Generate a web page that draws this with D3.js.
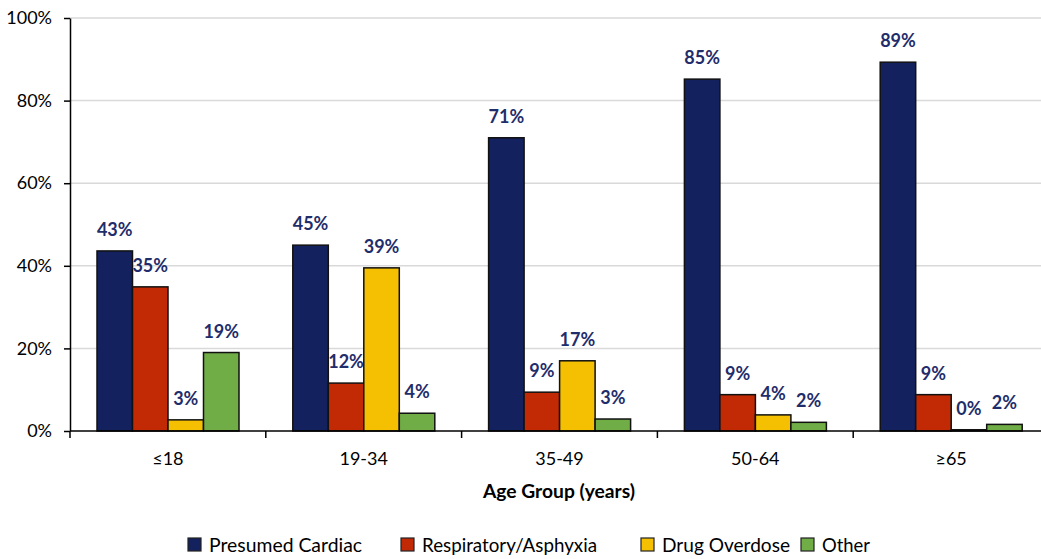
<!DOCTYPE html>
<html>
<head>
<meta charset="utf-8">
<script src="https://cdn.jsdelivr.net/npm/d3@7"></script>
<style>
  body { margin: 0; background: #fff; }
  svg { display: block; font-family: Lato, "Open Sans", sans-serif; }
</style>
</head>
<body>
<div id="chart"></div>
<script>
let W = 1041, H = 559;

let categories = ["\u226418", "19-34", "35-49", "50-64", "\u226565"];
let seriesNames = ["Presumed Cardiac", "Respiratory/Asphyxia", "Drug Overdose", "Other"];
let seriesColors = ["#13215E", "#C12A05", "#F5C002", "#70AD47"];
// bar heights, label text as printed
let cardiac     = [43.6, 45.0, 71.0, 85.2, 89.3];
let respiratory = [34.9, 11.6, 9.4, 8.8, 8.8];
let overdose    = [2.7, 39.5, 17.0, 3.9, 0.3];
let other       = [19.0, 4.3, 2.9, 2.1, 1.6];
let cardiacLbl     = ["43%", "45%", "71%", "85%", "89%"];
let respiratoryLbl = ["35%", "12%", "9%", "9%", "9%"];
let overdoseLbl    = ["3%", "39%", "17%", "4%", "0%"];
let otherLbl       = ["19%", "4%", "3%", "2%", "2%"];
let yTicks = [0, 20, 40, 60, 80, 100];

let series = [cardiac, respiratory, overdose, other];
let seriesLbl = [cardiacLbl, respiratoryLbl, overdoseLbl, otherLbl];

let PLOT_LEFT = 70, PLOT_TOP = 18, PLOT_BOTTOM = 431;
let GROUP_W = 195.8;

let svg = d3.select("#chart").append("svg").attr("width", W).attr("height", H);

let x0 = d3.scaleBand().domain(categories).range([PLOT_LEFT, PLOT_LEFT + GROUP_W * 5]).padding(0);
let x1 = d3.scaleBand().domain(d3.range(4)).range([27, 27 + 35.5 * 4]).padding(0);
let y = d3.scaleLinear().domain([0, 100]).range([PLOT_BOTTOM, PLOT_TOP]);

//gridlines
svg.append("g").selectAll("line").data(yTicks.filter(d => d > 0)).enter().append("line")
   .attr("x1", PLOT_LEFT).attr("x2", W).attr("y1", d => y(d)).attr("y2", d => y(d))
   .attr("stroke", "#D9D9D9").attr("stroke-width", 1.5);

//y axis
let yAxis = svg.append("g").attr("transform", "translate(" + PLOT_LEFT + ",0)")
   .call(d3.axisLeft(y).tickValues(yTicks).tickFormat(d => d + "%").tickSize(6).tickSizeOuter(0));
yAxis.select(".domain").attr("stroke", "#000").attr("stroke-width", 1.5);
yAxis.selectAll(".tick line").attr("stroke", "#000").attr("stroke-width", 1.5);
yAxis.selectAll("text").attr("font-size", 18).attr("fill", "#000").attr("x", -18)
     .attr("font-family", "Lato, sans-serif");

//bars
let rows = [];
categories.forEach(function(c, i) {
  series.forEach(function(s, j) {
    rows.push({cat: c, s: j, v: s[i], lbl: seriesLbl[j][i]});
  });
});

svg.append("g").selectAll("rect").data(rows).enter().append("rect")
   .attr("x", d => x0(d.cat) + x1(d.s))
   .attr("width", x1.bandwidth())
   .attr("y", d => y(d.v))
   .attr("height", d => PLOT_BOTTOM - y(d.v))
   .attr("fill", d => seriesColors[d.s])
   .attr("stroke", "#111")
   .attr("stroke-width", 1.5);

svg.append("g").selectAll("text").data(rows).enter().append("text")
   .attr("x", d => x0(d.cat) + x1(d.s) + x1.bandwidth() / 2)
   .attr("y", d => y(d.v) - 15)
   .attr("text-anchor", "middle")
   .attr("font-size", 18).attr("font-weight", "bold")
   .attr("fill", "#1F2D6B")
   .text(d => d.lbl);

//x axis
let xAxis = svg.append("g").attr("transform", "translate(0," + PLOT_BOTTOM + ")")
   .call(d3.axisBottom(x0).tickSize(0).tickSizeOuter(0));
xAxis.select(".domain").remove();
xAxis.selectAll("text").attr("font-size", 18).attr("fill", "#000").attr("dy", 0).attr("y", 34)
     .attr("font-family", "Lato, sans-serif");
svg.append("line").attr("x1", PLOT_LEFT).attr("x2", W).attr("y1", PLOT_BOTTOM).attr("y2", PLOT_BOTTOM)
   .attr("stroke", "#000").attr("stroke-width", 1.5);
svg.append("g").selectAll("line").data(d3.range(6)).enter().append("line")
   .attr("x1", d => PLOT_LEFT + d * GROUP_W).attr("x2", d => PLOT_LEFT + d * GROUP_W)
   .attr("y1", PLOT_BOTTOM).attr("y2", PLOT_BOTTOM + 7)
   .attr("stroke", "#000").attr("stroke-width", 1.5);

svg.append("text").attr("x", 559).attr("y", 498).attr("text-anchor", "middle")
   .attr("font-size", 19).attr("font-weight", "bold")
   .attr("textLength", 152).attr("lengthAdjust", "spacingAndGlyphs")
   .text("Age Group (years)");

//legend
let legendX = [188, 401, 641, 801];
let legendTextW = [153, 175, 128, 48];
let legend = svg.append("g").selectAll("g").data(seriesNames).enter().append("g")
   .attr("transform", (d, i) => "translate(" + legendX[i] + ",538)");
legend.append("rect").attr("width", 13).attr("height", 13)
   .attr("fill", (d, i) => seriesColors[i]).attr("stroke", "#222").attr("stroke-width", 1.2);
legend.append("text").attr("x", 21).attr("y", 14).attr("font-size", 20)
   .attr("textLength", (d, i) => legendTextW[i]).attr("lengthAdjust", "spacingAndGlyphs")
   .text(d => d);
</script>
</body>
</html>
